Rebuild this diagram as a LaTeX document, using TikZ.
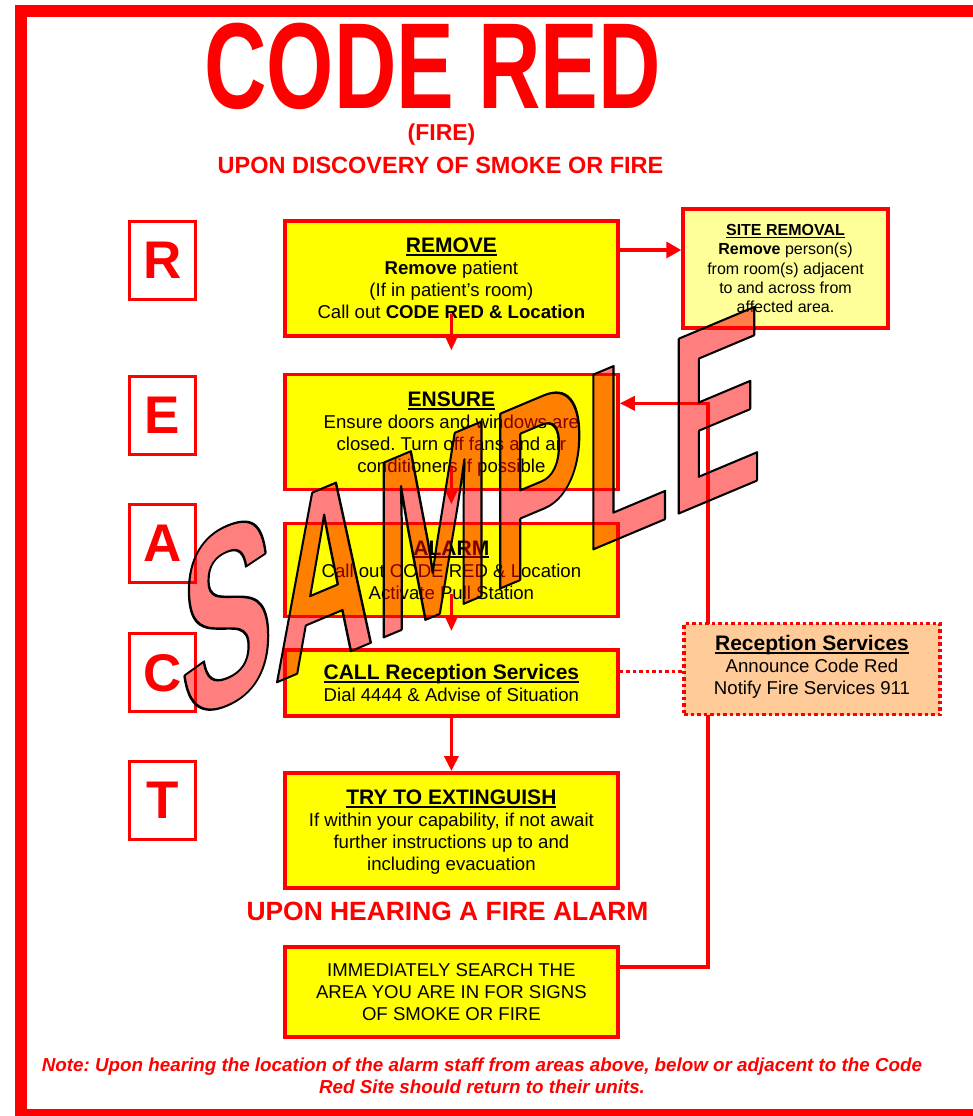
\documentclass[tikz,border=0pt]{standalone}
\usepackage{fontspec}
\setmainfont{Liberation Sans}
\newfontfamily\titlefont[FakeStretch=0.707]{Liberation Sans}
\newfontfamily\samplefont[FakeStretch=0.55]{Liberation Sans}
\usetikzlibrary{arrows.meta,calc,backgrounds}
\definecolor{fred}{HTML}{FF0000}
\definecolor{fyellow}{HTML}{FFFF00}
\definecolor{lyellow}{HTML}{FFFF99}
\definecolor{peach}{HTML}{FFCC99}
\newcommand\hdu[1]{\setbox0\hbox{#1}\rlap{\rule[-3pt]{\wd0}{1.8pt}}\box0}
\newcommand\hds[1]{\setbox0\hbox{#1}\rlap{\rule[-2.6pt]{\wd0}{1.5pt}}\box0}
\begin{document}
\frenchspacing
\begin{tikzpicture}[x=1pt,y=-1pt,
  mainbox/.style={draw=fred, line width=3.5pt, fill=fyellow, minimum width=333.3pt, inner sep=0pt, align=center, text depth=0pt, font=\fontsize{18.6}{22}\selectfont},
  letterbox/.style={draw=fred, line width=2.7pt, minimum width=65.6pt, minimum height=78pt, inner sep=0pt, text=fred, text depth=0pt, font=\fontsize{53}{60}\selectfont\bfseries},
  conn/.style={draw=fred, line width=3.5pt},
  arrowtip/.style={-{Triangle[length=15pt,width=14pt]}},
  dotline/.style={draw=fred, line width=3.5pt, dash pattern=on 3.5pt off 3pt},
  redtext/.style={text=fred, inner sep=0pt, anchor=base},
  samplestyle/.style={anchor=base, inner sep=0pt, transform shape, font=\samplefont\bfseries\fontsize{254}{260}\selectfont},
  ]
\useasboundingbox (0,0) rectangle (972,1116);

% titles
\node[redtext, font=\titlefont\bfseries\fontsize{122.3}{130}\selectfont] (title) at (432.5,108.3) {CODE RED};
\node[redtext, font=\bfseries\fontsize{23}{26}\selectfont] (fire) at (441.5,140) {(FIRE)};
\node[redtext, font=\bfseries\fontsize{23.5}{26}\selectfont] (upon) at (440.5,173.3) {UPON DISCOVERY OF SMOKE OR FIRE};

% letter boxes
\node[letterbox] (lR) at (162.5,260.5) {R};
\node[letterbox] (lE) at (162.5,415.3) {E};
\node[letterbox] (lA) at (162.5,543.3) {A};
\node[letterbox] (lC) at (162.5,672.5) {C};
\node[letterbox] (lT) at (162.5,800.7) {T};

% main boxes
\node[mainbox, minimum height=114.7pt] (remove) at (451.4,278.4)
  {{\fontsize{21}{22}\selectfont\bfseries\hdu{REMOVE}}\\ \textbf{Remove} patient\\ (If in patient’s room)\\ Call out \textbf{CODE RED \& Location}};
\node[mainbox, minimum height=115pt] (ensure) at (451.4,432.2)
  {{\fontsize{21}{22}\selectfont\bfseries\hdu{ENSURE}}\\ Ensure doors and windows are\\ closed. Turn off fans and air\\ conditioners if possible};
\node[mainbox, minimum height=92.6pt] (alarm) at (451.4,570)
  {{\fontsize{21}{22}\selectfont\bfseries\hdu{ALARM}}\\ Call out CODE RED \& Location\\ Activate Pull Station};
\node[mainbox, minimum height=66.3pt] (call) at (451.4,682.9)
  {{\fontsize{21}{22}\selectfont\bfseries\hdu{CALL Reception Services}}\\ Dial 4444 \& Advise of Situation};
\node[mainbox, minimum height=115.3pt] (try) at (451.4,830.4)
  {{\fontsize{21}{22}\selectfont\bfseries\hdu{TRY TO EXTINGUISH}}\\ If within your capability, if not await\\ further instructions up to and\\ including evacuation};
\node[mainbox, minimum height=90pt] (imm) at (451.4,992)
  {IMMEDIATELY SEARCH THE\\ AREA YOU ARE IN FOR SIGNS\\ OF SMOKE OR FIRE};

\node[draw=fred, line width=3.5pt, fill=lyellow, minimum width=205pt, minimum height=119pt, inner sep=0pt, align=center, text depth=0pt, font=\fontsize{16}{19.2}\selectfont] (site) at (785.5,268.5)
  {{\bfseries\hds{SITE REMOVAL}}\\ \textbf{Remove} person(s)\\ from room(s) adjacent\\ to and across from\\ affected area.};

\node[draw=fred, line width=3.5pt, dash pattern=on 3.5pt off 3pt, fill=peach, minimum width=256pt, minimum height=91pt, inner sep=0pt, align=center, text depth=8pt, font=\fontsize{18.6}{22}\selectfont] (recep) at (812,669.2)
  {{\fontsize{21}{22}\selectfont\bfseries\hdu{Reception Services}}\\ Announce Code Red\\ Notify Fire Services 911};

\node[redtext, font=\bfseries\fontsize{26.4}{30}\selectfont] (hear) at (447.5,920) {UPON HEARING A FIRE ALARM};
\node[redtext, font=\bfseries\itshape\fontsize{18.8}{22}\selectfont] (note1) at (482,1071.7) {Note: Upon hearing the location of the alarm staff from areas above, below or adjacent to the Code};
\node[redtext, font=\bfseries\itshape\fontsize{18.8}{22}\selectfont] (note2) at (482,1093.3) {Red Site should return to their units.};

% connectors
\coordinate (rs) at ($(remove.east)+(0,-28.4)$);
\draw[conn, -{Triangle[length=15pt,width=16pt]}] (rs) -- (rs -| site.west);
\draw[conn, -{Triangle[length=15pt,width=12.5pt]}] ($(remove.south)+(0,-24)$) -- ($(remove.south)+(0,13)$);
\draw[conn, -{Triangle[length=15pt,width=12.5pt]}] ($(ensure.south)+(0,-24)$) -- ($(ensure.south)+(0,13)$);
\draw[conn, -{Triangle[length=15pt,width=12.5pt]}] ($(alarm.south)+(0,-24)$) -- ($(alarm.south)+(0,13)$);
\draw[conn, arrowtip] (call.south) -- (try.north);
\coordinate (cr) at ($(call.east)+(0,-11.2)$);
\draw[dotline] (cr) -- (cr -| recep.west);

\begin{pgfonlayer}{background}
\fill[white] (0,0) rectangle (972,1116);
\draw[fred, line width=12pt] (21,11) rectangle (1000,1115);
\coordinate (ie) at ($(imm.north east)+(0,21.5)$);
\coordinate (turn) at (708,403.3);
\draw[conn, arrowtip] (ie) -| (turn) -- (turn -| ensure.east);
\end{pgfonlayer}

% watermark
\begin{scope}[shift={(471.5,600.5)}, yslant=0.42]
\node[samplestyle, text=fred, text opacity=0.5] (samplefill) at (0,0) {SAMPLE};
\node[samplestyle, text=black] (sampleline) at (0,0) {\special{pdf:literal direct 1 Tr 2.2 w 1 j}SAMPLE\special{pdf:literal direct 0 Tr}};
\end{scope}
\end{tikzpicture}
\end{document}
